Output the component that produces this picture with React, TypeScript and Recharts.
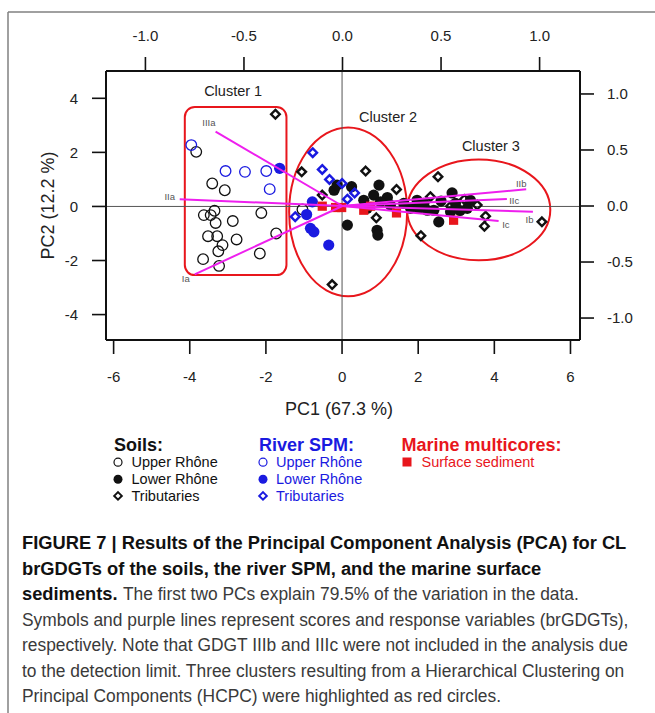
import React from 'react';
import { ScatterChart, Scatter, XAxis, YAxis, ReferenceLine, ReferenceArea } from 'recharts';

const FONT = "'Liberation Sans', Arial, Helvetica, sans-serif";
const RED = '#e8161c';
const BLUE = '#1a1ae0';
const MAGENTA = '#ee1fee';
const INK = '#111';

// PCA scores (PC1, PC2) per sample group
const soilsUpperRhone: [number, number][] = [
  [-3.83, 2.02], [-3.41, 0.85], [-3.08, 0.6], [-3.63, -0.32], [-3.45, -0.32], [-3.35, -0.16],
  [-3.32, -0.61], [-2.87, -0.54], [-2.12, -0.24], [-3.52, -1.1], [-3.28, -1.1], [-2.77, -1.22],
  [-3.14, -1.43], [-3.25, -1.66], [-1.73, -1.0], [-3.65, -1.95], [-2.16, -1.74], [-3.23, -2.2],
  [-1.04, -0.11],
];
const soilsLowerRhone: [number, number][] = [
  [-0.21, 0.6], [-0.13, 0.79], [0.25, 0.73], [0.14, -0.69], [0.97, 0.79], [0.83, 0.42],
  [1.19, 0.33], [0.66, -0.07], [0.92, -0.88], [0.94, -1.06], [0.57, 0.23], [1.01, 0.17],
  [1.27, 0.05], [2.89, 0.5], [2.54, -0.57], [1.97, 0.23], [2.15, 0.11], [2.41, -0.14],
  [2.24, -0.14], [2.85, -0.2], [1.8, -0.07], [1.62, 0.11], [2.98, 0.11], [3.37, 0.23],
  [2.02, -0.07], [3.29, -0.07], [2.6, 0.2], [3.1, -0.15],
];
const soilsTributaries: [number, number][] = [
  [-1.75, 3.41], [-1.06, 1.28], [0.62, 1.31], [1.43, 0.63], [0.9, -0.42], [-0.26, -2.89],
  [2.52, 1.1], [2.07, -1.08], [3.77, -0.36], [3.74, -0.73], [5.25, -0.57], [3.55, 0.05],
  [3.21, 0.26], [2.85, 0.01], [2.32, 0.36], [-0.52, 0.42],
];
const riverUpperRhone: [number, number][] = [
  [-3.96, 2.27], [-3.06, 1.31], [-2.55, 1.28], [-1.99, 1.31], [-1.9, 0.64],
];
const riverLowerRhone: [number, number][] = [
  [-1.64, 1.41], [-0.78, 0.17], [-0.93, -0.3], [-0.83, -0.81], [-0.74, -0.94], [-0.35, -1.43],
];
const riverTributaries: [number, number][] = [
  [-1.23, -0.38], [-0.77, 1.99], [-0.52, 1.37], [-0.33, 1.0], [0.0, 0.85], [0.33, 0.5], [0.14, 0.27],
];
const marineSurface: [number, number][] = [
  [-0.52, 0.01], [-0.17, -0.04], [-0.01, -0.04], [0.75, 0.01], [0.57, -0.14], [1.43, -0.24], [2.93, -0.51],
];

// brGDGT loadings, read on the top/right axes
const loadingNames = ['IIIa', 'IIa', 'Ia', 'IIb', 'IIc', 'Ib', 'Ic'];
const loadingTips: [number, number][] = [
  [-0.644, 0.663], [-0.826, 0.06], [-0.75, -0.61], [0.932, 0.149], [0.834, 0.0625], [0.966, -0.051], [0.792, -0.134],
];
const loadingLabelPos: [number, number][] = [
  [-0.678, 0.741], [-0.877, 0.08], [-0.795, -0.652], [0.907, 0.203], [0.871, 0.047], [0.949, -0.119], [0.829, -0.17],
];

// HCPC cluster outlines in score units: [x1, x2, y1, y2]
const clusterNames = ['Cluster 1', 'Cluster 2', 'Cluster 3'];
const clusterBounds: [number, number, number, number][] = [
  [-4.13, -1.46, -2.54, 3.68],
  [-1.39, 1.71, -3.32, 2.92],
  [1.71, 5.47, -1.99, 1.74],
];
const clusterLabelPos: [number, number][] = [[-2.86, 4.27], [1.21, 3.31], [3.91, 2.24]];

const pc1Ticks = [-6, -4, -2, 0, 2, 4, 6];
const pc2Ticks = [-4, -2, 0, 2, 4];
const loadingTicks = [-1, -0.5, 0, 0.5, 1];

const toPts = (a: [number, number][]) => a.map(([x, y]) => ({ x, y }));

// Marker shapes
const openCircle = (color: string, r = 5.3) => (p: any) =>
  p.cx == null ? <g /> : <circle cx={p.cx} cy={p.cy} r={r} fill="none" stroke={color} strokeWidth={1.3} />;
const filledCircle = (color: string, r = 5.6) => (p: any) =>
  p.cx == null ? <g /> : <circle cx={p.cx} cy={p.cy} r={r} fill={color} />;
const openDiamond = (color: string, s = 4.3) => (p: any) =>
  p.cx == null ? (
    <g />
  ) : (
    <path
      d={`M${p.cx},${p.cy - s}L${p.cx + s},${p.cy}L${p.cx},${p.cy + s}L${p.cx - s},${p.cy}Z`}
      fill="none"
      stroke={color}
      strokeWidth={2.4}
    />
  );
const filledSquare = (color: string, h = 4.6) => (p: any) =>
  p.cx == null ? <g /> : <rect x={p.cx - h} y={p.cy - h} width={2 * h} height={2 * h} fill={color} />;
const noMark = () => <g />;

const textMark = (size: number, fill: string, dy: number) => (p: any) =>
  p.cx == null ? (
    <g />
  ) : (
    <text x={p.cx} y={p.cy} dy={dy} textAnchor="middle" fontSize={size} fill={fill} fontFamily={FONT}>
      {p.payload.name}
    </text>
  );

const roundedBox = (p: any) => (
  <rect x={p.x} y={p.y} width={p.width} height={p.height} rx={10} ry={10} fill="none" stroke={RED} strokeWidth={2} />
);
const ellipseBox = (p: any) => (
  <ellipse
    cx={p.x + p.width / 2}
    cy={p.y + p.height / 2}
    rx={p.width / 2}
    ry={p.height / 2}
    fill="none"
    stroke={RED}
    strokeWidth={2}
  />
);

const XTitle = (props: any) => {
  const vb = props.viewBox || { x: 106, y: 340, width: 474, height: 80 };
  return (
    <text x={vb.x + vb.width / 2 - 4} y={vb.y + 75} textAnchor="middle" fontSize={18} fill="#222" fontFamily={FONT}>
      PC1 (67.3 %)
    </text>
  );
};
const YTitle = (props: any) => {
  const vb = props.viewBox || { x: 26, y: 71, width: 80, height: 269 };
  const x = vb.x + 28;
  const y = vb.y + vb.height / 2;
  return (
    <text x={x} y={y} transform={`rotate(-90 ${x} ${y})`} textAnchor="middle" fontSize={18} fill="#222" fontFamily={FONT}>
      PC2 (12.2 %)
    </text>
  );
};

const axisLine = { stroke: INK, strokeWidth: 2 };
const tickLine = { stroke: INK, strokeWidth: 1.6 };
const tickStyle = { fill: '#222', fontSize: 15, fontFamily: FONT };
const fmt1 = (v: number) => v.toFixed(1);

const loadingLabels = loadingNames.map((name, i) => ({ x: loadingLabelPos[i][0], y: loadingLabelPos[i][1], name }));
const loadingSegments = loadingTips.map(([x, y]) => [{ x: 0, y: 0 }, { x, y }]);
const clusterLabels = clusterNames.map((name, i) => ({ x: clusterLabelPos[i][0], y: clusterLabelPos[i][1], name }));

function Legend() {
  const rows = [467, 484, 500.7];
  const labels = ['Upper Rhône', 'Lower Rhône', 'Tributaries'];
  const groups = [
    { title: 'Soils:', color: INK, hx: 114, sx: 118, tx: 131.5 },
    { title: 'River SPM:', color: BLUE, hx: 259, sx: 263, tx: 276 },
  ];
  const marks = (c: string, i: number, cx: number, cy: number) => {
    if (i === 0) return <circle cx={cx} cy={cy} r={4} fill="none" stroke={c} strokeWidth={1.2} />;
    if (i === 1) return <circle cx={cx} cy={cy} r={4.5} fill={c} />;
    const s = 3.8;
    return <path d={`M${cx},${cy - s}L${cx + s},${cy}L${cx},${cy + s}L${cx - s},${cy}Z`} fill="none" stroke={c} strokeWidth={2} />;
  };
  return (
    <g fontFamily={FONT}>
      {groups.map((g) => (
        <g key={g.title}>
          <text x={g.hx} y={451} fontSize={18} fontWeight={700} fill={g.color}>
            {g.title}
          </text>
          {labels.map((l, i) => (
            <g key={l}>
              {marks(g.color, i, g.sx, rows[i] - 4.8)}
              <text x={g.tx} y={rows[i]} fontSize={14.5} fill={g.color}>
                {l}
              </text>
            </g>
          ))}
        </g>
      ))}
      <text x={401.5} y={451} fontSize={18} fontWeight={700} fill={RED}>
        Marine multicores:
      </text>
      <rect x={402.5} y={457.5} width={9} height={9} fill={RED} />
      <text x={421.5} y={467} fontSize={14.5} fill={RED}>
        Surface sediment
      </text>
    </g>
  );
}

const REG_SX = 0.94;
const BOLD_SX = 0.99;
const CAP_SIZE = 18.5;

function Caption() {
  const base = [549, 574.5, 600, 625.5, 651, 676.5, 702];
  const line = (y: number, txt: string, bold: boolean, x = 22) => (
    <text
      transform={`translate(${x} ${y}) scale(${bold ? BOLD_SX : REG_SX} 1)`}
      fontSize={CAP_SIZE}
      fontWeight={bold ? 700 : 400}
      fill={bold ? '#111' : '#3a3a3a'}
      fontFamily={FONT}
    >
      {txt}
    </text>
  );
  return (
    <g>
      {line(base[0], 'FIGURE 7 | Results of the Principal Component Analysis (PCA) for CL', true)}
      {line(base[1], 'brGDGTs of the soils, the river SPM, and the marine surface', true)}
      {line(base[2], 'sediments.', true)}
      {line(base[2], 'The first two PCs explain 79.5% of the variation in the data.', false, 123)}
      {line(base[3], 'Symbols and purple lines represent scores and response variables (brGDGTs),', false)}
      {line(base[4], 'respectively. Note that GDGT IIIb and IIIc were not included in the analysis due', false)}
      {line(base[5], 'to the detection limit. Three clusters resulting from a Hierarchical Clustering on', false)}
      {line(base[6], 'Principal Components (HCPC) were highlighted as red circles.', false)}
    </g>
  );
}

export default function App() {
  return (
    <div style={{ position: 'absolute', left: 0, top: 0, width: 655, height: 713, background: '#fff', overflow: 'hidden' }}>
      <svg style={{ position: 'absolute', left: 0, top: 0 }} width={655} height={713}>
        <line x1={8} y1={12} x2={655} y2={12} stroke="#808080" strokeWidth={1.5} />
        <line x1={8} y1={12} x2={8} y2={713} stroke="#808080" strokeWidth={1.5} />
      </svg>
      <div style={{ position: 'absolute', left: 0, top: 0 }}>
        <ScatterChart width={655} height={713} margin={{ top: 31, right: 25, bottom: 293, left: 26 }}>
          <XAxis
            xAxisId="pc1"
            dataKey="x"
            type="number"
            orientation="bottom"
            domain={[-6.2, 6.25]}
            ticks={pc1Ticks}
            allowDataOverflow
            height={80}
            tickSize={14}
            tickMargin={17}
            axisLine={axisLine}
            tickLine={tickLine}
            tick={tickStyle}
            label={(p: any) => <XTitle {...p} />}
          />
          <XAxis
            xAxisId="load"
            dataKey="x"
            type="number"
            orientation="top"
            domain={[-1.2, 1.205]}
            ticks={loadingTicks}
            allowDataOverflow
            height={40}
            tickSize={14}
            tickMargin={16}
            tickFormatter={fmt1}
            axisLine={axisLine}
            tickLine={tickLine}
            tick={tickStyle}
          />
          <YAxis
            yAxisId="pc2"
            dataKey="y"
            type="number"
            orientation="left"
            domain={[-4.94, 5.01]}
            ticks={pc2Ticks}
            allowDataOverflow
            width={80}
            tickSize={14}
            tickMargin={14}
            axisLine={axisLine}
            tickLine={tickLine}
            tick={tickStyle}
            label={(p: any) => <YTitle {...p} />}
          />
          <YAxis
            yAxisId="load"
            dataKey="y"
            type="number"
            orientation="right"
            domain={[-1.196, 1.205]}
            ticks={loadingTicks}
            allowDataOverflow
            width={50}
            tickSize={14}
            tickMargin={13}
            tickFormatter={fmt1}
            axisLine={axisLine}
            tickLine={tickLine}
            tick={tickStyle}
          />

          <ReferenceLine xAxisId="pc1" yAxisId="pc2" x={0} stroke="#555" strokeWidth={1} />
          <ReferenceLine xAxisId="pc1" yAxisId="pc2" y={0} stroke="#555" strokeWidth={1} />

          {clusterBounds.map(([x1, x2, y1, y2], i) => (
            <ReferenceArea
              key={clusterNames[i]}
              xAxisId="pc1"
              yAxisId="pc2"
              x1={x1}
              x2={x2}
              y1={y1}
              y2={y2}
              fill="none"
              stroke={RED}
              shape={i === 0 ? roundedBox : ellipseBox}
            />
          ))}

          <Scatter name="Soils Upper Rhône" xAxisId="pc1" yAxisId="pc2" data={toPts(soilsUpperRhone)} shape={openCircle(INK)} isAnimationActive={false} />
          <Scatter name="River SPM Upper Rhône" xAxisId="pc1" yAxisId="pc2" data={toPts(riverUpperRhone)} shape={openCircle(BLUE)} isAnimationActive={false} />
          <Scatter name="Soils Lower Rhône" xAxisId="pc1" yAxisId="pc2" data={toPts(soilsLowerRhone)} shape={filledCircle(INK)} isAnimationActive={false} />
          <Scatter name="River SPM Lower Rhône" xAxisId="pc1" yAxisId="pc2" data={toPts(riverLowerRhone)} shape={filledCircle(BLUE)} isAnimationActive={false} />
          <Scatter name="Soils Tributaries" xAxisId="pc1" yAxisId="pc2" data={toPts(soilsTributaries)} shape={openDiamond(INK)} isAnimationActive={false} />
          <Scatter name="River SPM Tributaries" xAxisId="pc1" yAxisId="pc2" data={toPts(riverTributaries)} shape={openDiamond(BLUE)} isAnimationActive={false} />
          <Scatter name="Surface sediment" xAxisId="pc1" yAxisId="pc2" data={toPts(marineSurface)} shape={filledSquare(RED)} isAnimationActive={false} />

          {loadingSegments.map((seg, i) => (
            <Scatter
              key={loadingNames[i]}
              name={loadingNames[i]}
              xAxisId="load"
              yAxisId="load"
              data={seg}
              line={{ stroke: MAGENTA, strokeWidth: 2 }}
              fill={MAGENTA}
              shape={noMark}
              isAnimationActive={false}
            />
          ))}

          <Scatter name="loading labels" xAxisId="load" yAxisId="load" data={loadingLabels} shape={textMark(9.5, '#555', 3.4)} isAnimationActive={false} />
          <Scatter name="cluster labels" xAxisId="pc1" yAxisId="pc2" data={clusterLabels} shape={textMark(14.5, '#222', 5)} isAnimationActive={false} />
        </ScatterChart>
      </div>
      <svg style={{ position: 'absolute', left: 0, top: 0, pointerEvents: 'none' }} width={655} height={713}>
        <Legend />
        <Caption />
      </svg>
    </div>
  );
}
